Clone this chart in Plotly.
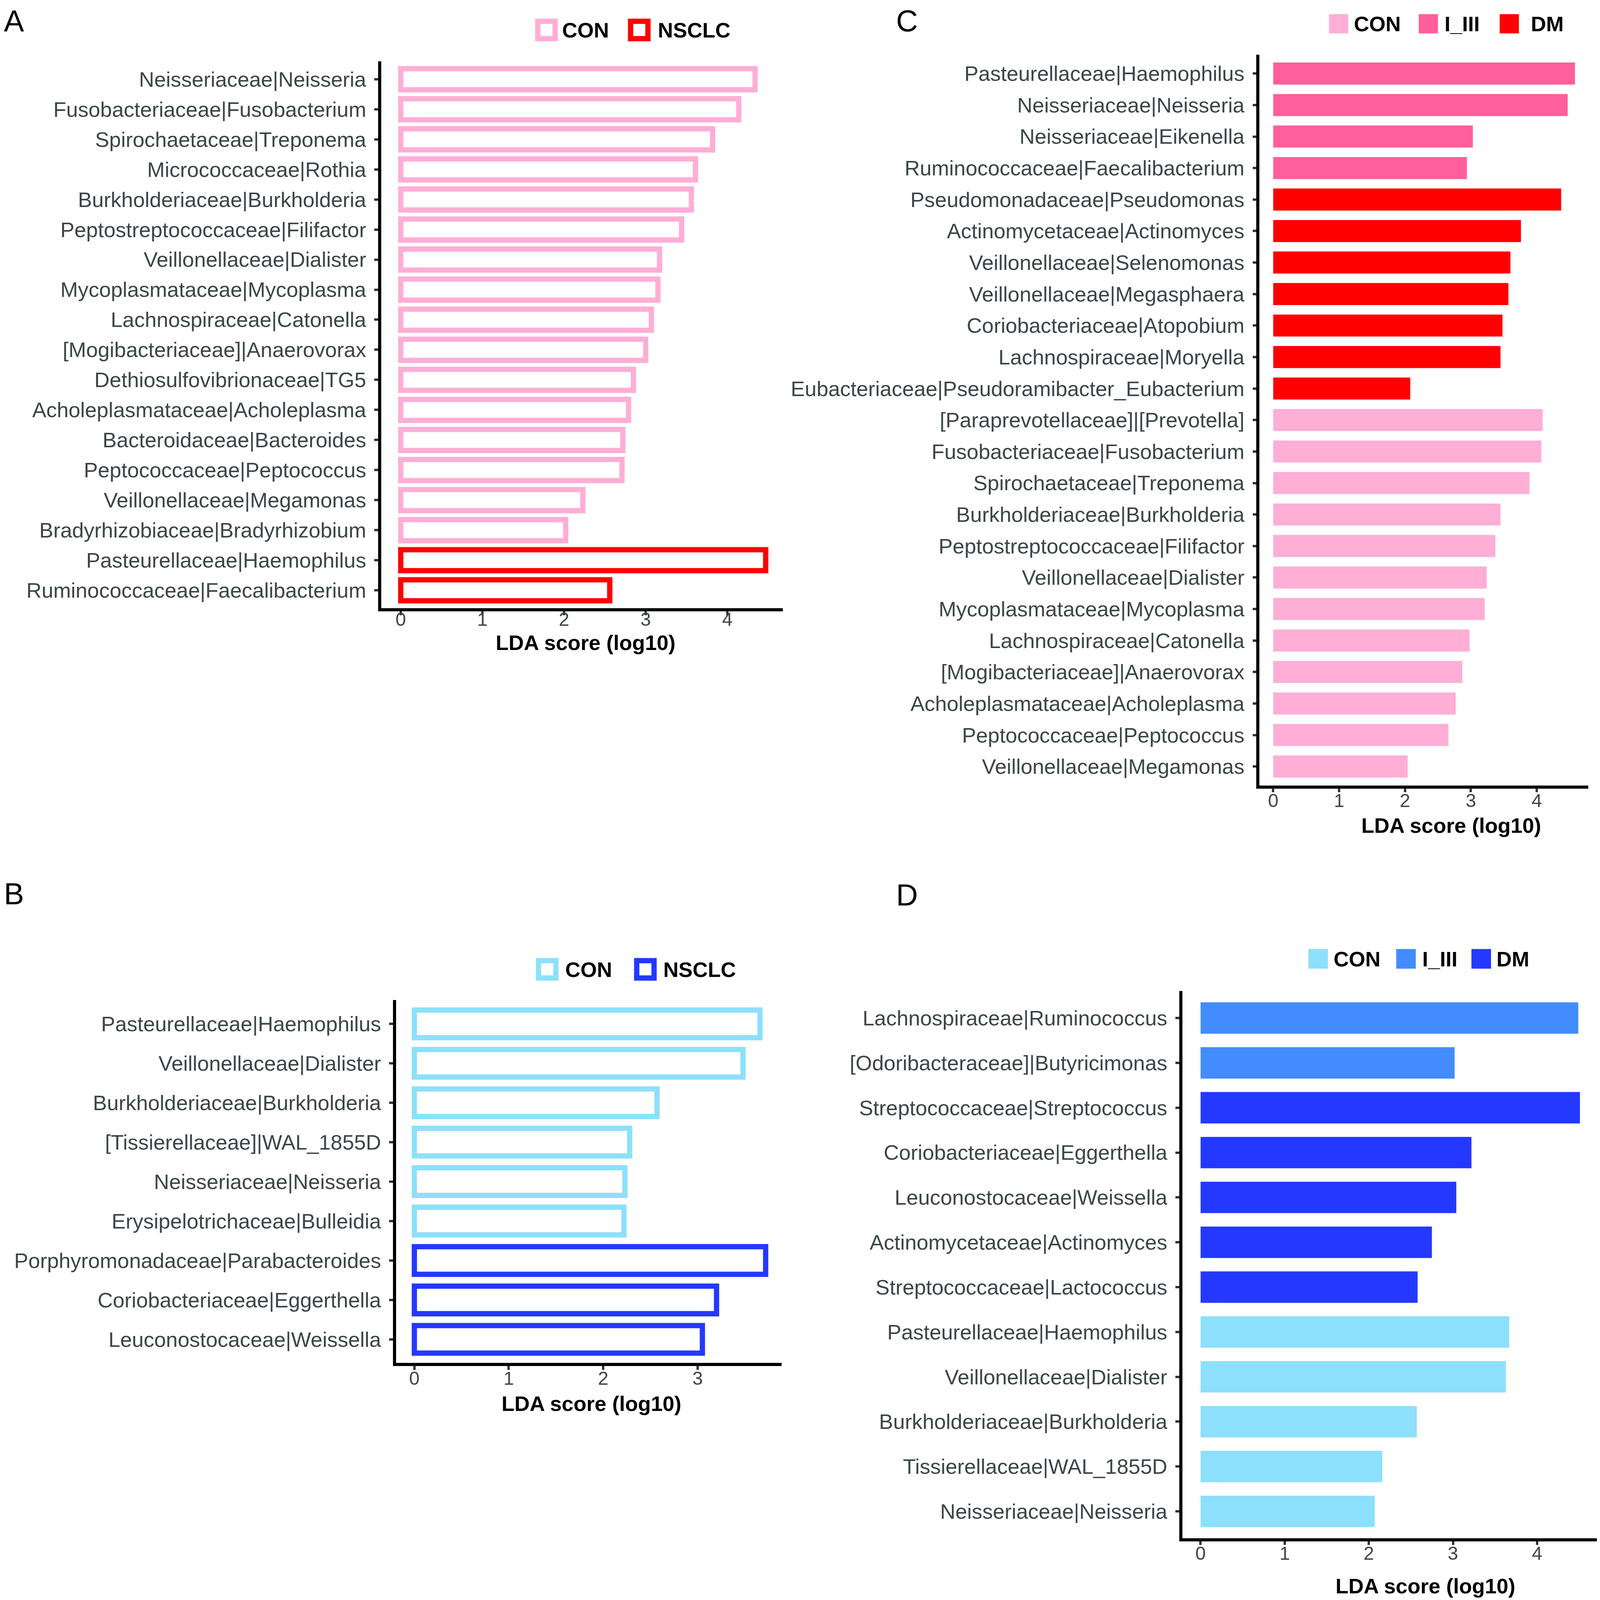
import plotly.graph_objects as go

# reference frame (pixel measurements are taken in this frame)
W, H = 4180, 4399
# rendered figure size (kept inside the captured area)
FW, FH = 4086, 4086
S = 0.965  # scale for fonts / strokes

FONT = "Liberation Sans, Arial, Helvetica, sans-serif"
TICK_COLOR = "#3C4548"

# ---------------- Panel A (outlined bars) ----------------
a_con_labels = ["Neisseriaceae|Neisseria", "Fusobacteriaceae|Fusobacterium", "Spirochaetaceae|Treponema",
                "Micrococcaceae|Rothia", "Burkholderiaceae|Burkholderia", "Peptostreptococcaceae|Filifactor",
                "Veillonellaceae|Dialister", "Mycoplasmataceae|Mycoplasma", "Lachnospiraceae|Catonella",
                "[Mogibacteriaceae]|Anaerovorax", "Dethiosulfovibrionaceae|TG5", "Acholeplasmataceae|Acholeplasma",
                "Bacteroidaceae|Bacteroides", "Peptococcaceae|Peptococcus", "Veillonellaceae|Megamonas",
                "Bradyrhizobiaceae|Bradyrhizobium"]
a_con_vals = [4.34, 4.14, 3.82, 3.61, 3.56, 3.44, 3.17, 3.15, 3.07, 3.00, 2.85, 2.79, 2.72, 2.71, 2.23, 2.02]
a_nsclc_labels = ["Pasteurellaceae|Haemophilus", "Ruminococcaceae|Faecalibacterium"]
a_nsclc_vals = [4.47, 2.56]

# ---------------- Panel B (outlined bars) ----------------
b_con_labels = ["Pasteurellaceae|Haemophilus", "Veillonellaceae|Dialister", "Burkholderiaceae|Burkholderia",
                "[Tissierellaceae]|WAL_1855D", "Neisseriaceae|Neisseria", "Erysipelotrichaceae|Bulleidia"]
b_con_vals = [3.66, 3.48, 2.57, 2.28, 2.23, 2.22]
b_nsclc_labels = ["Porphyromonadaceae|Parabacteroides", "Coriobacteriaceae|Eggerthella", "Leuconostocaceae|Weissella"]
b_nsclc_vals = [3.72, 3.20, 3.05]

# ---------------- Panel C (filled bars) ----------------
c_i3_labels = ["Pasteurellaceae|Haemophilus", "Neisseriaceae|Neisseria", "Neisseriaceae|Eikenella",
               "Ruminococcaceae|Faecalibacterium"]
c_i3_vals = [4.58, 4.47, 3.03, 2.94]
c_dm_labels = ["Pseudomonadaceae|Pseudomonas", "Actinomycetaceae|Actinomyces", "Veillonellaceae|Selenomonas",
               "Veillonellaceae|Megasphaera", "Coriobacteriaceae|Atopobium", "Lachnospiraceae|Moryella",
               "Eubacteriaceae|Pseudoramibacter_Eubacterium"]
c_dm_vals = [4.37, 3.76, 3.60, 3.57, 3.48, 3.45, 2.08]
c_con_labels = ["[Paraprevotellaceae]|[Prevotella]", "Fusobacteriaceae|Fusobacterium", "Spirochaetaceae|Treponema",
                "Burkholderiaceae|Burkholderia", "Peptostreptococcaceae|Filifactor", "Veillonellaceae|Dialister",
                "Mycoplasmataceae|Mycoplasma", "Lachnospiraceae|Catonella", "[Mogibacteriaceae]|Anaerovorax",
                "Acholeplasmataceae|Acholeplasma", "Peptococcaceae|Peptococcus", "Veillonellaceae|Megamonas"]
c_con_vals = [4.09, 4.07, 3.89, 3.45, 3.37, 3.24, 3.21, 2.98, 2.87, 2.77, 2.66, 2.04]

# ---------------- Panel D (filled bars) ----------------
d_i3_labels = ["Lachnospiraceae|Ruminococcus", "[Odoribacteraceae]|Butyricimonas"]
d_i3_vals = [4.49, 3.02]
d_dm_labels = ["Streptococcaceae|Streptococcus", "Coriobacteriaceae|Eggerthella", "Leuconostocaceae|Weissella",
               "Actinomycetaceae|Actinomyces", "Streptococcaceae|Lactococcus"]
d_dm_vals = [4.51, 3.22, 3.04, 2.75, 2.58]
d_con_labels = ["Pasteurellaceae|Haemophilus", "Veillonellaceae|Dialister", "Burkholderiaceae|Burkholderia",
                "Tissierellaceae|WAL_1855D", "Neisseriaceae|Neisseria"]
d_con_vals = [3.67, 3.63, 2.57, 2.16, 2.07]

x_ticks_a = [0, 1, 2, 3, 4]
x_ticks_b = [0, 1, 2, 3]
x_ticks_c = [0, 1, 2, 3, 4]
x_ticks_d = [0, 1, 2, 3, 4]

# colours
PINK_CON = "#FFAED6"
PINK_I3 = "#FF5F9B"
RED = "#FF0000"
BLUE_CON = "#8DE0FB"
BLUE_I3 = "#428CFF"
BLUE_DM = "#2339FF"

x_title = "LDA score (log10)"

F_LABEL = 56 * S
F_TICK = 50 * S
F_LETTER = 80 * S
LW_AXIS = 8 * S
LW_BAR = 14 * S
TICKLEN = 10 * S


def fx(px):
    return px / W


def fy(px):
    return 1 - px / H


fig = go.Figure()


def add_bars(axis_id, labels, vals, color, outlined):
    if outlined:
        marker = dict(color="white", line=dict(color=color, width=LW_BAR))
    else:
        marker = dict(color=color, line=dict(width=0))
    fig.add_trace(go.Bar(
        x=vals, y=labels, orientation="h", width=0.7, marker=marker,
        xaxis="x" + axis_id, yaxis="y" + axis_id, showlegend=False, hoverinfo="x+y"))


add_bars("", a_con_labels, a_con_vals, PINK_CON, True)
add_bars("", a_nsclc_labels, a_nsclc_vals, RED, True)
add_bars("2", b_con_labels, b_con_vals, BLUE_CON, True)
add_bars("2", b_nsclc_labels, b_nsclc_vals, BLUE_DM, True)
add_bars("3", c_i3_labels, c_i3_vals, PINK_I3, False)
add_bars("3", c_dm_labels, c_dm_vals, RED, False)
add_bars("3", c_con_labels, c_con_vals, PINK_CON, False)
add_bars("4", d_i3_labels, d_i3_vals, BLUE_I3, False)
add_bars("4", d_dm_labels, d_dm_vals, BLUE_DM, False)
add_bars("4", d_con_labels, d_con_vals, BLUE_CON, False)


def xaxis_cfg(dom, rng, ticks, anchor, standoff):
    return dict(domain=[fx(dom[0]), fx(dom[1])], range=rng, tickvals=ticks, ticktext=[str(t) for t in ticks],
                ticks="outside", ticklen=TICKLEN, tickwidth=6 * S, tickcolor="#333333",
                showline=True, linecolor="black", linewidth=LW_AXIS, showgrid=False, zeroline=False,
                tickfont=dict(size=F_TICK, color=TICK_COLOR, family=FONT), anchor=anchor,
                ticklabelstandoff=standoff, fixedrange=True)


def yaxis_cfg(dom, cats, anchor):
    n = len(cats)
    return dict(domain=[fy(dom[1]), fy(dom[0])], type="category", categoryorder="array", categoryarray=cats,
                range=[n - 0.4, -0.6], ticks="outside", ticklen=TICKLEN, tickwidth=6 * S, tickcolor="#333333",
                showline=True, linecolor="black", linewidth=LW_AXIS, showgrid=False, zeroline=False,
                tickfont=dict(size=F_LABEL, color=TICK_COLOR, family=FONT), anchor=anchor,
                ticklabelstandoff=10, fixedrange=True)


a_cats = a_con_labels + a_nsclc_labels
b_cats = b_con_labels + b_nsclc_labels
c_cats = c_i3_labels + c_dm_labels + c_con_labels
d_cats = d_i3_labels + d_dm_labels + d_con_labels

fig.update_layout(
    width=FW, height=FH, margin=dict(l=0, r=0, t=0, b=0),
    paper_bgcolor="white", plot_bgcolor="white", barmode="overlay",
    font=dict(family=FONT),
    xaxis=xaxis_cfg((990, 2042), [-0.24, 4.68], x_ticks_a, "y", -31),
    yaxis=yaxis_cfg((160, 1668), a_cats, "x"),
    xaxis2=xaxis_cfg((1029, 2039), [-0.194, 3.89], x_ticks_b, "y2", -20),
    yaxis2=yaxis_cfg((2748, 3748), b_cats, "x2"),
    xaxis3=xaxis_cfg((3290, 4151), [-0.21, 4.78], x_ticks_c, "y3", -20),
    yaxis3=yaxis_cfg((142, 2156), c_cats, "x3"),
    xaxis4=xaxis_cfg((3088, 4178), [-0.218, 4.73], x_ticks_d, "y4", -20),
    yaxis4=yaxis_cfg((2723, 4231), d_cats, "x4"),
)

annotations = []
shapes = []

# panel letters
for letter, x, y in [("A", 0, 50), ("B", 0, 2455), ("C", 2337, 48), ("D", 2337, 2458)]:
    annotations.append(dict(text=letter, x=fx(x), y=fy(y), xref="paper", yref="paper", xanchor="left",
                            yanchor="middle", showarrow=False, font=dict(size=F_LETTER, color="black", family=FONT)))

# axis titles
for x, y in [(1525, 1762), (1541, 3860), (3792, 2266), (3725, 4362)]:
    annotations.append(dict(text="<b>" + x_title + "</b>", x=fx(x), y=fy(y), xref="paper", yref="paper",
                            xanchor="center", yanchor="middle", showarrow=False,
                            font=dict(size=F_LABEL, color="black", family=FONT)))


def legend_item(label, box, cy, size, text_x, color, outlined):
    cx = (box[0] + box[1]) / 2
    half = size * S / 2  # in rendered px
    hx, hy = half / FW, half / FH
    x0, x1 = fx(cx) - hx, fx(cx) + hx
    y0, y1 = fy(cy) - hy, fy(cy) + hy
    if outlined:
        sw = LW_BAR
        ix, iy = sw / 2 / FW, sw / 2 / FH
        shapes.append(dict(type="rect", xref="paper", yref="paper",
                           x0=x0 + ix, x1=x1 - ix, y0=y0 + iy, y1=y1 - iy,
                           fillcolor="white", line=dict(color=color, width=sw)))
    else:
        shapes.append(dict(type="rect", xref="paper", yref="paper",
                           x0=x0, x1=x1, y0=y0, y1=y1,
                           fillcolor=color, line=dict(width=0)))
    annotations.append(dict(text="<b>" + label + "</b>", x=fx(text_x), y=fy(cy), xref="paper", yref="paper",
                            xanchor="left", yanchor="middle", showarrow=False,
                            font=dict(size=F_LABEL, color="black", family=FONT)))


# Legend A
legend_item("CON", (1393, 1453), 74, 60, 1462, PINK_CON, True)
legend_item("NSCLC", (1636, 1696), 74, 60, 1713, RED, True)
# Legend B
legend_item("CON", (1395, 1455), 2663, 60, 1470, BLUE_CON, True)
legend_item("NSCLC", (1652, 1712), 2663, 60, 1727, BLUE_DM, True)
# Legend C
legend_item("CON", (3472, 3523), 57, 51, 3535, PINK_CON, False)
legend_item("I_III", (3707, 3758), 57, 51, 3773, PINK_I3, False)
legend_item("DM", (3919, 3970), 57, 51, 3999, RED, False)
# Legend D
legend_item("CON", (3418, 3470), 2634, 52, 3482, BLUE_CON, False)
legend_item("I_III", (3648, 3700), 2634, 52, 3715, BLUE_I3, False)
legend_item("DM", (3845, 3897), 2634, 52, 3909, BLUE_DM, False)

fig.update_layout(annotations=annotations, shapes=shapes)

fig.write_html("out.html")
